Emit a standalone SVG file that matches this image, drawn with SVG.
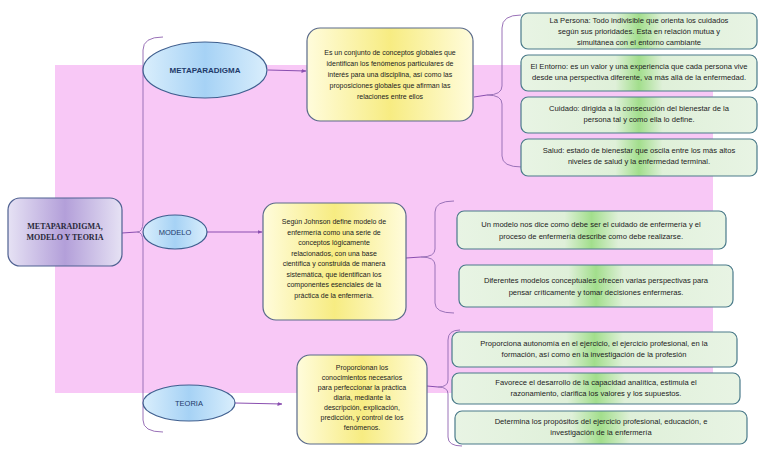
<svg xmlns="http://www.w3.org/2000/svg" width="768" height="466" viewBox="0 0 768 466">
<defs>
<linearGradient id="gMain" x1="0" y1="0" x2="1" y2="0">
<stop offset="0" stop-color="#e6e2f4"/><stop offset="0.5" stop-color="#b39fd9"/><stop offset="1" stop-color="#e6e2f4"/>
</linearGradient>
<linearGradient id="gEll" x1="0" y1="0" x2="1" y2="0">
<stop offset="0" stop-color="#d9eefc"/><stop offset="0.5" stop-color="#a6d2f5"/><stop offset="1" stop-color="#d9eefc"/>
</linearGradient>
<linearGradient id="gYel" x1="0" y1="0" x2="1" y2="0">
<stop offset="0" stop-color="#fffcdc"/><stop offset="0.5" stop-color="#f7ec82"/><stop offset="1" stop-color="#fffcdc"/>
</linearGradient>
<linearGradient id="gGrn" x1="0" y1="0" x2="1" y2="0">
<stop offset="0" stop-color="#e8f4e4"/><stop offset="0.4" stop-color="#dff0d9"/><stop offset="0.5" stop-color="#a2de8c"/><stop offset="0.6" stop-color="#dff0d9"/><stop offset="1" stop-color="#e8f4e4"/>
</linearGradient>
<marker id="arr" viewBox="0 0 10 10" refX="9" refY="5" markerWidth="5" markerHeight="5" orient="auto">
<path d="M0,1 L10,5 L0,9 z" fill="#8a4fb0"/>
</marker>
</defs>
<style>
.main{fill:url(#gMain);stroke:#4f6191;stroke-width:1.2}
.ell{fill:url(#gEll);stroke:#3f5f8f;stroke-width:1.2}
.yel{fill:url(#gYel);stroke:#5a6a8a;stroke-width:1.2}
.grn{fill:url(#gGrn);stroke:#4a7a8a;stroke-width:1.2}
.ln{fill:none;stroke:#8a4fb0;stroke-width:1}
.br{fill:none;stroke:#9a72b8;stroke-width:1}
text{font-family:"Liberation Sans",Arial,sans-serif;fill:#222;text-anchor:middle}
.t7{font-size:7px}
.tg{font-size:7.6px}
.te{font-size:7.5px;fill:#1f3a6a}
.teb{font-size:8px;font-weight:bold;fill:#1f3a6a}
.ts{font-family:"Liberation Serif","Times New Roman",serif;font-size:8px;font-weight:bold;fill:#2a2a3a}
</style>
<rect x="55" y="65" width="658" height="328" fill="#f8c8f6"/>

<g id="connectors">
<line class="ln" x1="122" y1="233" x2="137" y2="232"/>
<path class="br" d="M163,37 Q143,37 143,50 L143,222 Q143,232 137,232 Q143,232 143,242 L143,420 Q143,432 163,432"/>
<line class="ln" x1="268" y1="70" x2="306" y2="71" marker-end="url(#arr)"/>
<line class="ln" x1="207" y1="232" x2="262" y2="232" marker-end="url(#arr)"/>
<line class="ln" x1="235" y1="403" x2="282" y2="404" marker-end="url(#arr)"/>
<line class="ln" x1="474" y1="97" x2="487" y2="95"/>
<path class="br" d="M521,15 Q502,15 502,28 L502,86 Q502,95 487,95 Q502,95 502,104 L502,156 Q502,167 522,167"/>
<line class="ln" x1="406" y1="258" x2="421" y2="257"/>
<path class="br" d="M454,201 Q435,201 435,212 L435,249 Q435,257 421,257 Q435,257 435,265 L435,303 Q435,313 454,313"/>
<line class="ln" x1="427" y1="386" x2="438" y2="387"/>
<path class="br" d="M460,330 Q448,330 448,340 L448,380 Q448,387 438,387 Q448,387 448,394 L448,437 Q448,446 462,446"/>
</g>

<g id="n-main">
<rect class="main" x="8" y="198" width="114" height="68" rx="12"/>
<text class="ts" x="65" y="229">METAPARADIGMA,</text>
<text class="ts" x="65" y="240">MODELO Y TEORIA</text>
</g>

<g id="n-metaparadigma">
<ellipse class="ell" cx="205" cy="70" rx="62" ry="28"/>
<text class="teb" x="205" y="73">METAPARADIGMA</text>
</g>
<g id="n-modelo">
<ellipse class="ell" cx="175" cy="232" rx="32" ry="17"/>
<text class="te" x="175" y="235">MODELO</text>
</g>
<g id="n-teoria">
<ellipse class="ell" cx="189" cy="403" rx="46" ry="18"/>
<text class="te" x="189" y="406">TEORIA</text>
</g>

<g id="n-def-meta">
<rect class="yel" x="307" y="28" width="166" height="93" rx="13"/>
<text class="t7" x="390" y="55">Es un conjunto de conceptos globales que</text>
<text class="t7" x="390" y="66">identifican los fenómenos particulares de</text>
<text class="t7" x="390" y="77">interés para una disciplina, así como las</text>
<text class="t7" x="390" y="88">proposiciones globales que afirman las</text>
<text class="t7" x="390" y="99">relaciones entre ellos</text>
</g>
<g id="n-def-modelo">
<rect class="yel" x="263" y="203" width="143" height="117" rx="13"/>
<text class="t7" x="334" y="224">Según Johnson define modelo de</text>
<text class="t7" x="334" y="234.5">enfermería como una serie de</text>
<text class="t7" x="334" y="245">conceptos lógicamente</text>
<text class="t7" x="334" y="255.5">relacionados, con una base</text>
<text class="t7" x="334" y="266">científica y construida de manera</text>
<text class="t7" x="334" y="276.5">sistemática, que identifican los</text>
<text class="t7" x="334" y="287">componentes esenciales de la</text>
<text class="t7" x="334" y="297.5">práctica de la enfermería.</text>
</g>
<g id="n-def-teoria">
<rect class="yel" x="297" y="355" width="130" height="89" rx="13"/>
<text class="t7" x="362" y="370">Proporcionan los</text>
<text class="t7" x="362" y="380">conocimientos necesarios</text>
<text class="t7" x="362" y="390">para perfeccionar la práctica</text>
<text class="t7" x="362" y="400">diaria, mediante la</text>
<text class="t7" x="362" y="410">descripción, explicación,</text>
<text class="t7" x="362" y="420">predicción, y control de los</text>
<text class="t7" x="362" y="430">fenómenos.</text>
</g>

<g id="n-persona">
<rect class="grn" x="521" y="13" width="236" height="36" rx="7"/>
<text class="tg" x="639" y="23">La Persona: Todo indivisible que orienta los cuidados</text>
<text class="tg" x="639" y="34">según sus prioridades. Esta en relación mutua y</text>
<text class="tg" x="639" y="45">simultánea con el entorno cambiante</text>
</g>
<g id="n-entorno">
<rect class="grn" x="521" y="55" width="236" height="36" rx="7"/>
<text class="tg" x="639" y="69">El Entorno: es un valor y una experiencia que cada persona vive</text>
<text class="tg" x="639" y="80">desde una perspectiva diferente, va más allá de la enfermedad.</text>
</g>
<g id="n-cuidado">
<rect class="grn" x="521" y="97" width="236" height="36" rx="7"/>
<text class="tg" x="639" y="111">Cuidado: dirigida a la consecución del bienestar de la</text>
<text class="tg" x="639" y="122">persona tal y como ella lo define.</text>
</g>
<g id="n-salud">
<rect class="grn" x="521" y="139" width="236" height="37" rx="7"/>
<text class="tg" x="639" y="153">Salud: estado de bienestar que oscila entre los más altos</text>
<text class="tg" x="639" y="164">niveles de salud y la enfermedad terminal.</text>
</g>

<g id="n-modelo-1">
<rect class="grn" x="457" y="211" width="269" height="38" rx="7"/>
<text class="tg" x="591" y="227">Un modelo nos dice como debe ser el cuidado de enfermería y el</text>
<text class="tg" x="591" y="239">proceso de enfermería describe como debe realizarse.</text>
</g>
<g id="n-modelo-2">
<rect class="grn" x="459" y="265" width="274" height="42" rx="7"/>
<text class="tg" x="596" y="283">Diferentes modelos conceptuales ofrecen varias perspectivas para</text>
<text class="tg" x="596" y="295">pensar críticamente y tomar decisiones enfermeras.</text>
</g>

<g id="n-teoria-1">
<rect class="grn" x="452" y="332" width="285" height="35" rx="7"/>
<text class="tg" x="594" y="346">Proporciona autonomía en el ejercicio, el ejercicio profesional, en la</text>
<text class="tg" x="594" y="357">formación, así como en la investigación de la profesión</text>
</g>
<g id="n-teoria-2">
<rect class="grn" x="452" y="373" width="288" height="31" rx="7"/>
<text class="tg" x="596" y="385">Favorece el desarrollo de la capacidad analítica, estimula el</text>
<text class="tg" x="596" y="396">razonamiento, clarifica los valores y los supuestos.</text>
</g>
<g id="n-teoria-3">
<rect class="grn" x="455" y="411" width="292" height="33" rx="7"/>
<text class="tg" x="601" y="424">Determina los propósitos del ejercicio profesional, educación, e</text>
<text class="tg" x="601" y="435">investigación de la enfermería</text>
</g>
</svg>
